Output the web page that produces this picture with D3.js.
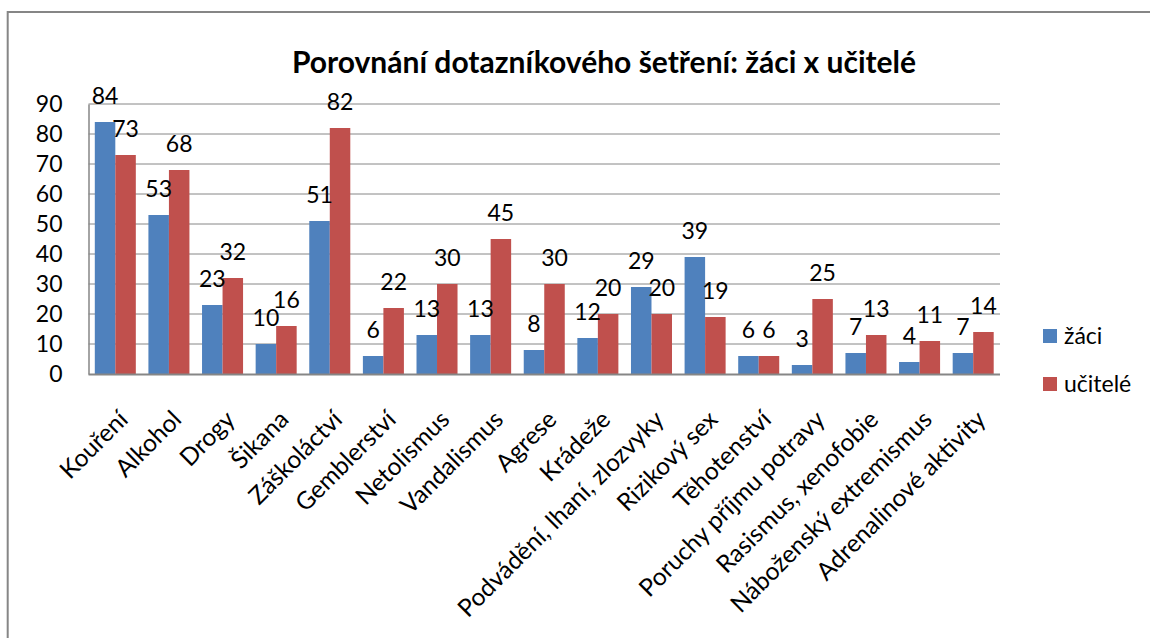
<!DOCTYPE html>
<html>
<head>
<meta charset="utf-8">
<script src="https://cdn.jsdelivr.net/npm/d3@7"></script>
<style>
  body { margin: 0; background: #fff; }
  text { font-family: Lato, "Open Sans", sans-serif; fill: #000; }
</style>
</head>
<body>
<div class="chart"></div>
<script>
// categories and series
var categories = ["Kouření", "Alkohol", "Drogy", "Šikana", "Záškoláctví", "Gemblerství",
  "Netolismus", "Vandalismus", "Agrese", "Krádeže", "Podvádění, lhaní, zlozvyky",
  "Rizikový sex", "Těhotenství", "Poruchy příjmu potravy", "Rasismus, xenofobie",
  "Náboženský extremismus", "Adrenalinové aktivity"];
var zaci = [84, 53, 23, 10, 51, 6, 13, 13, 8, 12, 29, 39, 6, 3, 7, 4, 7];
var ucitele = [73, 68, 32, 16, 82, 22, 30, 45, 30, 20, 20, 19, 6, 25, 13, 11, 14];
var seriesNames = ["žáci", "učitelé"];
var seriesColors = ["#4F81BD", "#C0504D"];
var yTicks = [0, 10, 20, 30, 40, 50, 60, 70, 80, 90];
var title = "Porovnání dotazníkového šetření: žáci x učitelé";

var width = 1150, height = 638;
var plot = {left: 88.5, right: 1000, top: 104, bottom: 374};

var svg = d3.select(".chart")
            .append("svg")
            .attr("width", width)
            .attr("height", height);

// outer frame (only top and left edges are visible in the picture)
svg.append("rect")
   .attr("x", 7.7)
   .attr("y", 12)
   .attr("width", 1200)
   .attr("height", 700)
   .attr("fill", "none")
   .attr("stroke", "#868686")
   .attr("stroke-width", 2);

var x0 = d3.scaleBand()
           .domain(categories)
           .range([plot.left, plot.right])
           .paddingInner(0.235)
           .paddingOuter(0.1175);

var x1 = d3.scaleBand()
           .domain(seriesNames)
           .range([0, x0.bandwidth()]);

var y = d3.scaleLinear()
          .domain([0, 90])
          .range([plot.bottom, plot.top]);

// gridlines
svg.append("g")
   .selectAll("line")
   .data(yTicks.slice(1))
   .enter()
   .append("line")
   .attr("x1", plot.left)
   .attr("x2", plot.right)
   .attr("y1", function(d) { return y(d); })
   .attr("y2", function(d) { return y(d); })
   .attr("stroke", "#868686")
   .attr("stroke-width", 1);

// y axis labels
var yAxis = d3.axisLeft(y).tickValues(yTicks).tickSize(0).tickPadding(26);
var yg = svg.append("g")
   .attr("transform", "translate(" + plot.left + ",0)")
   .call(yAxis);
yg.select(".domain").attr("stroke", "#868686").attr("stroke-width", 1.5);
yg.selectAll("text")
  .style("font-size", "23px")
  .attr("fill", "#000");

// bars
var rows = categories.map(function(c, i) {
  return {cat: c, values: [zaci[i], ucitele[i]]};
});

var groups = svg.append("g")
   .selectAll("g")
   .data(rows)
   .enter()
   .append("g")
   .attr("transform", function(d) { return "translate(" + x0(d.cat) + ",0)"; });

groups.selectAll("rect")
   .data(function(d) { return d.values.map(function(v, k) { return {s: seriesNames[k], v: v, k: k}; }); })
   .enter()
   .append("rect")
   .attr("x", function(d) { return x1(d.s); })
   .attr("y", function(d) { return y(d.v); })
   .attr("width", x1.bandwidth())
   .attr("height", function(d) { return y(0) - y(d.v); })
   .attr("fill", function(d) { return seriesColors[d.k]; });

// data labels
groups.selectAll("text.val")
   .data(function(d) { return d.values.map(function(v, k) { return {s: seriesNames[k], v: v}; }); })
   .enter()
   .append("text")
   .attr("class", "val")
   .attr("x", function(d) { return x1(d.s) + x1.bandwidth() / 2; })
   .attr("y", function(d) { return y(d.v) - 18; })
   .attr("text-anchor", "middle")
   .style("font-size", "23px")
   .text(function(d) { return d.v; });

// x axis line
svg.append("line")
   .attr("x1", plot.left)
   .attr("x2", plot.right)
   .attr("y1", plot.bottom + 0.5)
   .attr("y2", plot.bottom + 0.5)
   .attr("stroke", "#868686")
   .attr("stroke-width", 2);

// category labels, rotated
svg.append("g")
   .selectAll("text")
   .data(categories)
   .enter()
   .append("text")
   .attr("text-anchor", "end")
   .attr("transform", function(d) {
      return "translate(" + (x0(d) + x0.bandwidth() / 2 + 14) + "," + 421 + ") rotate(-45)";
   })
   .style("font-size", "24.5px")
   .text(function(d) { return d; });

// title
svg.append("text")
   .attr("x", 604)
   .attr("y", 73)
   .attr("text-anchor", "middle")
   .style("font-size", "30px")
   .style("font-weight", "bold")
   .text(title);

// legend
var legend = svg.append("g")
   .selectAll("g")
   .data(seriesNames)
   .enter()
   .append("g")
   .attr("transform", function(d, i) { return "translate(1043," + (336 + i * 48) + ")"; });

legend.append("rect")
   .attr("x", 0)
   .attr("y", -7)
   .attr("width", 14)
   .attr("height", 14)
   .attr("fill", function(d, i) { return seriesColors[i]; });

legend.append("text")
   .attr("x", 21)
   .attr("y", 0)
   .attr("dy", "0.35em")
   .style("font-size", "23px")
   .text(function(d) { return d; });
</script>
</body>
</html>
